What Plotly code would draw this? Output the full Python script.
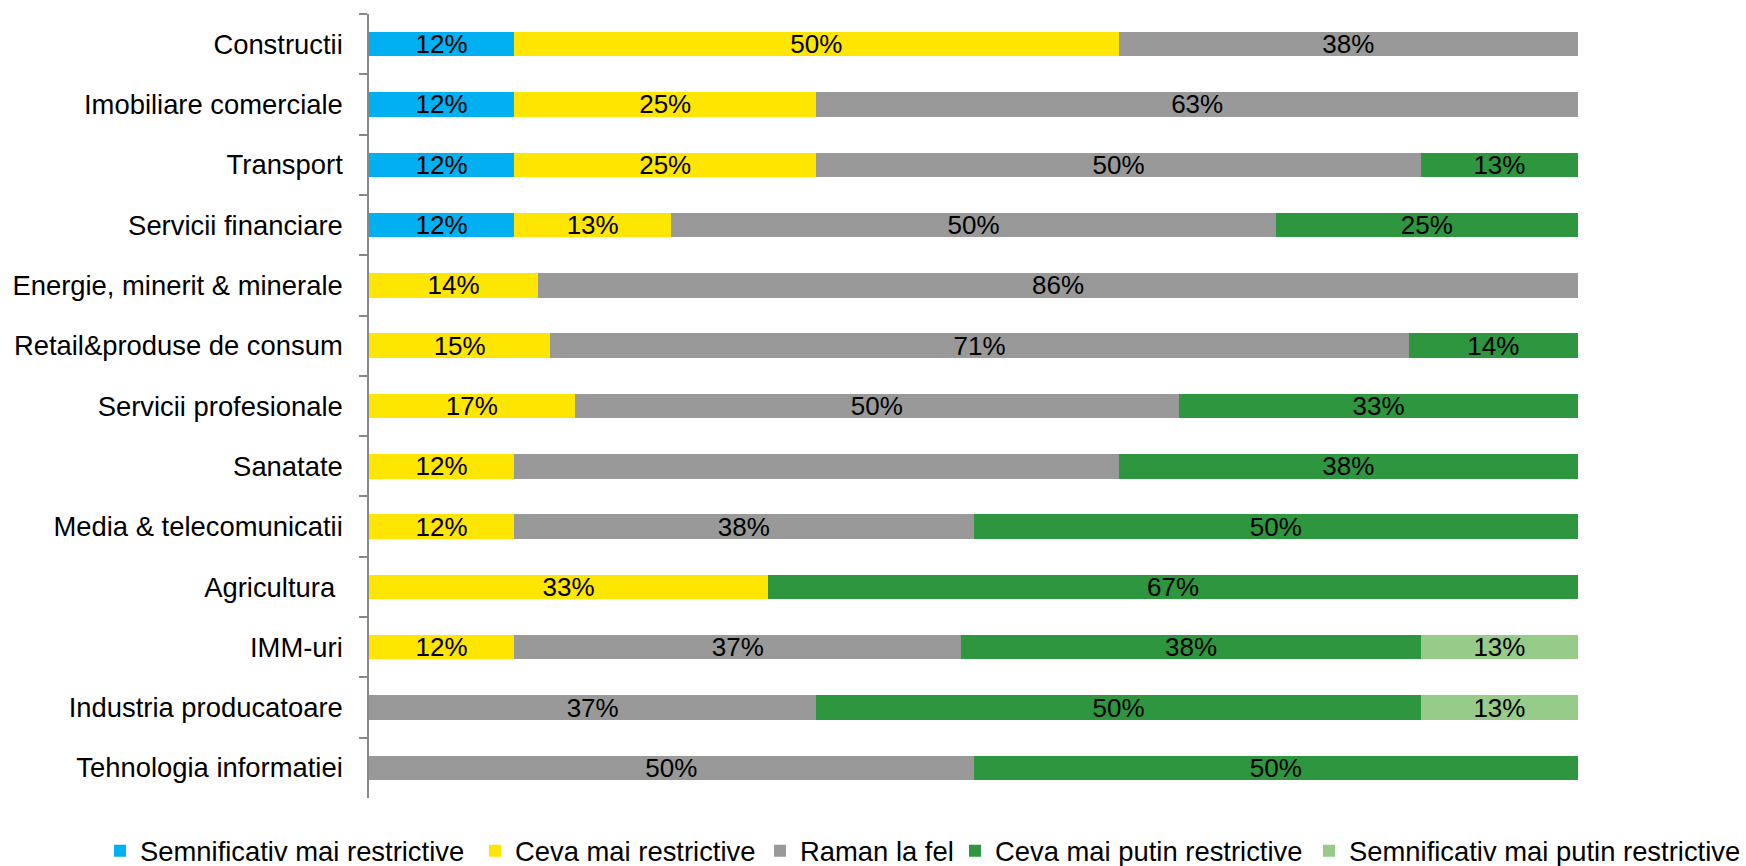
import plotly.graph_objects as go

# ---------------- data ----------------
categories = [
    "Constructii",
    "Imobiliare comerciale",
    "Transport",
    "Servicii financiare",
    "Energie, minerit & minerale",
    "Retail&produse de consum",
    "Servicii profesionale",
    "Sanatate",
    "Media & telecomunicatii",
    "Agricultura\u00a0",
    "IMM-uri",
    "Industria producatoare",
    "Tehnologia informatiei",
]

series_names = [
    "Semnificativ mai restrictive",
    "Ceva mai restrictive",
    "Raman la fel",
    "Ceva mai putin restrictive",
    "Semnificativ mai putin restrictive",
]

semnificativ_mai_restrictive = [12, 12, 12, 12, None, None, None, None, None, None, None, None, None]
ceva_mai_restrictive = [50, 25, 25, 13, 14, 15, 17, 12, 12, 33, 12, None, None]
raman_la_fel = [38, 63, 50, 50, 86, 71, 50, 50, 38, None, 37, 37, 50]
ceva_mai_putin_restrictive = [None, None, 13, 25, None, 14, 33, 38, 50, 67, 38, 50, 50]
semnificativ_mai_putin_restrictive = [None, None, None, None, None, None, None, None, None, None, 13, 13, None]

series_values = [
    semnificativ_mai_restrictive,
    ceva_mai_restrictive,
    raman_la_fel,
    ceva_mai_putin_restrictive,
    semnificativ_mai_putin_restrictive,
]

# labels not shown in the original chart
hidden_labels = {("Raman la fel", "Sanatate")}

# ---------------- styles ----------------
colors = ["#00B0F0", "#FFE600", "#999999", "#2E963E", "#96CB89"]
FONT = "Liberation Sans, Arial, sans-serif"
FS_AXIS = 27.4
FS_LABEL = 26
FS_LEGEND = 27.4

W, H = 1746, 866
ML, MR, MT, MB = 369, 168, 14, 68
PW = W - ML - MR
PH = H - MT - MB

legend_square_left_px = [115, 490, 775, 970, 1324]
legend_center_y_px = 851

fig = go.Figure()
for i, (name, vals, color) in enumerate(zip(series_names, series_values, colors)):
    text = []
    for cat, v in zip(categories, vals):
        if v is None or (name, cat.strip()) in hidden_labels:
            text.append("")
        else:
            text.append(f"{v}%")
    fig.add_trace(
        go.Bar(
            y=categories,
            x=vals,
            name=name,
            orientation="h",
            marker=dict(color=color, line=dict(width=0)),
            text=text,
            textposition="inside",
            insidetextanchor="middle",
            textangle=0,
            constraintext="none",
            textfont=dict(color="#000000", size=FS_LABEL, family=FONT),
            hoverinfo="skip",
            legend="legend" if i == 0 else f"legend{i + 1}",
        )
    )

legend_layouts = {}
for i, sq in enumerate(legend_square_left_px):
    key = "legend" if i == 0 else f"legend{i + 1}"
    legend_layouts[key] = dict(
        orientation="h",
        x=(sq - 15 - ML) / PW,
        xanchor="left",
        y=-(legend_center_y_px - (H - MB)) / PH,
        yanchor="middle",
        font=dict(family=FONT, size=FS_LEGEND, color="#000000"),
        bgcolor="rgba(0,0,0,0)",
        borderwidth=0,
    )

fig.update_layout(
    width=W,
    height=H,
    barmode="stack",
    bargap=0.595,
    paper_bgcolor="white",
    plot_bgcolor="white",
    margin=dict(l=ML, r=MR, t=MT, b=MB, pad=0, autoexpand=False),
    font=dict(family=FONT, size=FS_AXIS, color="#000000"),
    xaxis=dict(
        range=[0, 100],
        visible=False,
        fixedrange=True,
    ),
    yaxis=dict(
        categoryorder="array",
        categoryarray=categories,
        autorange="reversed",
        showline=True,
        linecolor="#888888",
        linewidth=1.5,
        ticks="outside",
        tickson="boundaries",
        ticklen=8,
        tickwidth=1.5,
        tickcolor="#888888",
        ticklabelstandoff=19,
        showgrid=False,
        automargin=False,
        fixedrange=True,
        tickfont=dict(family=FONT, size=FS_AXIS, color="#000000"),
    ),
    showlegend=True,
    **legend_layouts,
)

fig.write_html(
    "out.html",
    config={"displayModeBar": False},
    post_script="document.body.style.margin='0';document.body.style.overflow='hidden';",
)
